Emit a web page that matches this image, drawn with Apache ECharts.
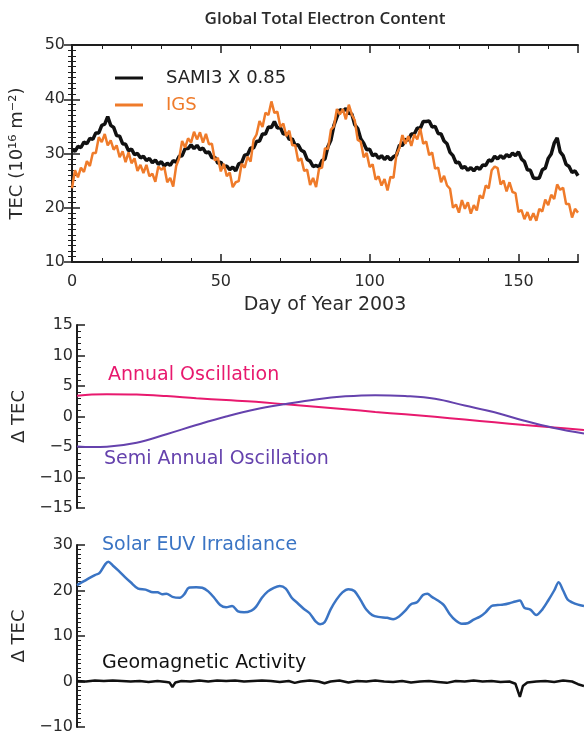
<!DOCTYPE html>
<html><head><meta charset="utf-8">
<script src="https://cdn.jsdelivr.net/npm/echarts@6/dist/echarts.min.js"></script>
<style>html,body{margin:0;padding:0;background:#fff}#c{width:584px;height:737px}</style>
</head><body><div id="c"></div>
<script>
// Top panel: one value per day, day 0..170
const sami3 = [30.7,30.4,31.3,31.1,32.1,31.8,32.8,32.6,33.8,33.8,35.2,35.4,36.8,35.2,34.8,33.3,33.2,31.8,31.7,30.5,
30.8,29.8,30.0,29.2,29.5,28.7,29.1,28.3,28.8,28.0,28.5,27.7,28.2,27.8,28.7,28.4,29.5,29.6,30.9,30.9,
31.6,30.9,31.5,30.7,31.0,30.1,30.3,29.2,29.3,28.2,28.4,27.5,27.7,27.0,27.5,26.8,28.1,28.3,29.7,29.8,
31.0,31.0,32.2,32.3,33.6,33.6,34.9,34.8,35.9,34.7,34.8,33.6,33.7,32.6,32.7,31.5,31.6,30.6,30.3,28.9,
28.6,27.6,27.8,27.5,28.7,29.0,31.3,32.5,35.2,36.7,38.1,37.8,38.3,37.4,37.3,35.3,34.6,32.7,31.9,30.7,
30.8,29.6,29.9,29.1,29.6,28.9,29.5,28.8,29.4,29.7,31.5,31.5,32.6,32.5,33.6,33.6,34.7,34.6,35.9,35.9,
36.0,34.9,35.0,33.7,33.6,32.3,31.8,30.2,29.6,28.3,28.4,27.3,27.6,26.9,27.4,26.8,27.5,27.1,27.9,27.8,
28.8,28.6,29.5,29.0,29.6,29.1,29.8,29.4,30.1,29.6,30.3,29.0,28.5,27.0,26.9,25.5,25.4,25.5,27.0,27.3,
29.1,29.9,31.9,32.9,30.3,29.6,28.0,27.6,26.5,26.8,25.9];
const igs = [23.6,26.9,25.6,27.4,26.6,28.6,27.7,30.1,30.1,33.0,32.1,33.6,31.5,32.4,30.7,31.5,29.3,30.4,28.4,30.2,
28.2,29.1,26.8,27.9,26.4,27.9,25.8,26.3,24.8,27.6,27.0,27.5,24.7,25.5,23.9,27.7,29.1,32.3,31.1,32.8,
32.0,34.0,32.6,33.9,32.0,33.6,31.7,31.8,28.7,29.2,26.7,28.1,25.8,26.5,23.8,24.7,24.9,28.1,27.4,29.4,
28.5,32.5,33.5,36.0,34.9,37.5,37.1,39.6,37.5,37.7,34.9,35.5,33.2,34.2,31.5,31.5,28.6,29.1,26.8,27.0,
24.2,25.5,23.8,27.2,27.4,31.0,30.8,34.4,35.0,38.2,37.2,38.2,36.3,39.0,37.2,36.1,32.5,32.2,29.3,30.1,
27.5,28.0,25.2,25.8,24.1,25.3,23.2,25.7,25.5,29.8,31.0,33.4,31.8,33.2,31.4,33.5,32.6,34.6,31.8,32.2,
29.7,30.2,27.2,27.4,24.7,25.9,24.1,23.5,20.0,20.6,19.1,21.4,19.8,21.0,18.9,20.5,19.5,22.3,21.7,24.1,
23.6,26.9,27.6,27.3,24.3,25.0,23.0,24.7,22.9,22.7,19.2,19.6,17.9,19.2,17.7,19.0,17.6,19.8,19.3,21.5,
20.5,22.4,21.6,24.3,23.3,23.7,20.7,20.7,18.2,19.8,19.1];

// Middle panel
const oscDays = [0,5,10,20,30,40,50,60,70,80,90,100,110,120,130,140,150,160,170];
const annual = [3.4,3.6,3.65,3.6,3.35,3.0,2.7,2.4,2.0,1.6,1.2,0.75,0.35,-0.05,-0.5,-0.95,-1.4,-1.8,-2.2];
const semiAnnual = [-4.9,-5.0,-4.95,-4.3,-2.9,-1.4,0.0,1.2,2.05,2.8,3.3,3.5,3.35,2.9,1.8,0.7,-0.7,-1.9,-2.8];

// Bottom panel
const solarDays = [0,3,6,7.5,9.5,10.5,12,14,16,18,20.5,23,25.5,27,28.5,30,32,34.5,36,37.5,40,42,44,46,48,50,52,54,56,58.5,60,62,64,66,68,70,72,74,76,78,80,81.5,83,85,87,89,91,93,95,97,99,101,104,106,108,110,112,114,116,117.5,119,121,123,125,127,129,131,133,135,137,139,141,143,145,147,148.5,150,152,154,156,158,160,161.5,163,164.5,166,168,170];
const solar = [21.2,22.3,23.4,23.8,25.8,26.3,25.5,24.3,23.0,21.8,20.4,20.2,19.6,19.6,19.2,19.3,18.6,18.4,19.2,20.6,20.7,20.6,19.8,18.4,16.8,16.3,16.6,15.4,15.2,15.6,16.4,18.4,19.8,20.6,21.0,20.4,18.4,17.2,16.0,15.0,13.2,12.6,13.0,15.8,18.0,19.6,20.3,19.9,18.0,15.8,14.6,14.2,14.0,13.7,14.3,15.5,17.0,17.4,19.0,19.3,18.6,17.8,16.8,14.8,13.4,12.7,12.8,13.6,14.2,15.2,16.6,16.8,16.9,17.2,17.6,17.8,16.2,15.8,14.6,15.8,17.8,20.0,21.8,20.0,18.0,17.4,16.9,16.6];
const geoDays = [0,3,6,9,12,15,18,21,24,27,30,31,32,33,35,38,41,44,47,50,53,56,59,62,65,68,71,73,75,78,81,83,85,88,91,94,97,100,103,106,109,112,115,118,121,124,127,130,133,136,139,142,145,147,148.5,149.5,151,154,157,160,163,166,168,170];
const geo = [0.1,0.0,0.2,0.1,0.2,0.1,0.0,0.1,-0.1,0.1,-0.1,-0.2,-1.2,-0.2,0.1,0.0,0.2,0.0,0.2,0.1,0.2,0.0,0.1,0.2,0.1,-0.1,0.1,-0.3,0.0,0.2,0.0,-0.4,0.0,0.2,-0.2,0.1,0.0,0.2,0.0,-0.1,0.1,-0.2,0.0,0.1,-0.1,-0.3,0.1,0.0,0.2,0.0,0.1,-0.1,0.0,-0.5,-3.4,-1.0,-0.2,0.0,0.1,-0.1,0.2,0.0,-0.6,-1.0];

const C_ORANGE = '#ef7b2a', C_PINK = '#e8196e', C_PURPLE = '#6542ad', C_BLUE = '#3a74c4', C_INK = '#1e1e1e';
const FONT = 'DejaVu Sans';

const pair = (xs, ys) => ys.map((v, i) => [xs[i], v]);
const byDay = ys => ys.map((v, i) => [i, v]);
const minusFmt = v => (v < 0 ? '\u2212' + Math.abs(v) : String(v));

const axisLine = { show: true, lineStyle: { color: C_INK, width: 2 } };
const tick = { show: true, inside: true, length: 8, lineStyle: { color: C_INK, width: 1.5 } };
const minor = n => ({ show: true, splitNumber: n, length: 4, lineStyle: { color: C_INK, width: 1 } });
const lbl = { color: '#2a2a2a', fontSize: 16, fontFamily: FONT };

const chart = echarts.init(document.getElementById('c'), null, { renderer: 'canvas' });
chart.setOption({
  animation: false,
  backgroundColor: '#fff',
  title: {
    text: 'Global Total Electron Content', left: 320, textAlign: 'center', top: 6,
    textStyle: { fontSize: 17, fontWeight: 600, color: '#2a2a2a', fontFamily: 'Open Sans' }
  },
  legend: {
    orient: 'vertical', left: 110, top: 63, itemGap: 7, itemWidth: 28, itemHeight: 3, icon: 'rect',
    textStyle: { fontSize: 18, fontFamily: FONT, lineHeight: 20, padding: [0, 0, 0, 18] },
    data: [
      { name: 'SAMI3 X 0.85', textStyle: { color: '#222' } },
      { name: 'IGS', textStyle: { color: C_ORANGE } }
    ]
  },
  grid: [
    { left: 71, top: 45, width: 507, height: 217 },
    { left: 77, top: 325, width: 507, height: 183 },
    { left: 77, top: 545, width: 507, height: 182 }
  ],
  xAxis: [
    { type: 'value', gridIndex: 0, min: 0, max: 170, interval: 50, position: 'bottom',
      axisLine, axisTick: tick, minorTick: minor(5), splitLine: { show: false },
      axisLabel: Object.assign({ margin: 12, showMaxLabel: false }, lbl),
      name: 'Day of Year 2003', nameLocation: 'middle', nameGap: 34,
      nameTextStyle: { fontSize: 19, color: '#2a2a2a', fontFamily: FONT } },
    { type: 'value', gridIndex: 0, min: 0, max: 170, interval: 50, position: 'top',
      axisLine, axisTick: tick, minorTick: minor(5), splitLine: { show: false }, axisLabel: { show: false } },
    { type: 'value', gridIndex: 1, min: 0, max: 170, show: false },
    { type: 'value', gridIndex: 2, min: 0, max: 170, show: false }
  ],
  yAxis: [
    { type: 'value', gridIndex: 0, min: 10, max: 50, interval: 10, position: 'left',
      axisLine, axisTick: tick, minorTick: minor(10), splitLine: { show: false },
      axisLabel: Object.assign({ margin: 7 }, lbl),
      name: 'TEC (10\u00b9\u2076 m\u207b\u00b2)', nameLocation: 'middle', nameGap: 46, nameRotate: 90,
      nameTextStyle: { fontSize: 18, color: '#2a2a2a', fontFamily: FONT } },
    { type: 'value', gridIndex: 0, min: 10, max: 50, interval: 10, position: 'right',
      axisLine, axisTick: tick, minorTick: minor(10), splitLine: { show: false }, axisLabel: { show: false } },
    { type: 'value', gridIndex: 1, min: -15, max: 15, interval: 5, position: 'left',
      axisLine, axisTick: tick, minorTick: minor(5), splitLine: { show: false },
      axisLabel: Object.assign({ margin: 4, formatter: minusFmt }, lbl),
      name: '\u0394 TEC', nameLocation: 'middle', nameGap: 48, nameRotate: 90,
      nameTextStyle: { fontSize: 18, color: '#2a2a2a', fontFamily: FONT } },
    { type: 'value', gridIndex: 2, min: -10, max: 30, interval: 10, position: 'left',
      axisLine, axisTick: tick, minorTick: minor(10), splitLine: { show: false },
      axisLabel: Object.assign({ margin: 4, formatter: minusFmt }, lbl),
      name: '\u0394 TEC', nameLocation: 'middle', nameGap: 48, nameRotate: 90,
      nameTextStyle: { fontSize: 18, color: '#2a2a2a', fontFamily: FONT } }
  ],
  series: [
    { name: 'SAMI3 X 0.85', type: 'line', xAxisIndex: 0, yAxisIndex: 0, data: byDay(sami3),
      showSymbol: false, color: '#111', lineStyle: { width: 3.5, color: '#111' } },
    { name: 'IGS', type: 'line', xAxisIndex: 0, yAxisIndex: 0, data: byDay(igs),
      showSymbol: false, color: C_ORANGE, lineStyle: { width: 2.5, color: C_ORANGE } },
    { name: 'Annual Oscillation', type: 'line', xAxisIndex: 2, yAxisIndex: 2, data: pair(oscDays, annual),
      smooth: 0.4, showSymbol: false, lineStyle: { width: 2, color: C_PINK } },
    { name: 'Semi Annual Oscillation', type: 'line', xAxisIndex: 2, yAxisIndex: 2, data: pair(oscDays, semiAnnual),
      smooth: 0.4, showSymbol: false, lineStyle: { width: 2, color: C_PURPLE } },
    { name: 'Solar EUV Irradiance', type: 'line', xAxisIndex: 3, yAxisIndex: 3, data: pair(solarDays, solar),
      smooth: 0.3, showSymbol: false, lineStyle: { width: 2.5, color: C_BLUE } },
    { name: 'Geomagnetic Activity', type: 'line', xAxisIndex: 3, yAxisIndex: 3, data: pair(geoDays, geo),
      showSymbol: false, lineStyle: { width: 2.5, color: '#111' } }
  ],
  graphic: [
    { type: 'text', left: 108, top: 366, style: { text: 'Annual Oscillation', fill: C_PINK, fontSize: 19, fontFamily: FONT } },
    { type: 'text', left: 104, top: 450, style: { text: 'Semi Annual Oscillation', fill: C_PURPLE, fontSize: 19, fontFamily: FONT } },
    { type: 'text', left: 102, top: 536, style: { text: 'Solar EUV Irradiance', fill: C_BLUE, fontSize: 19, fontFamily: FONT } },
    { type: 'text', left: 102, top: 654, style: { text: 'Geomagnetic Activity', fill: '#111', fontSize: 19, fontFamily: FONT } }
  ]
});
</script></body></html>
